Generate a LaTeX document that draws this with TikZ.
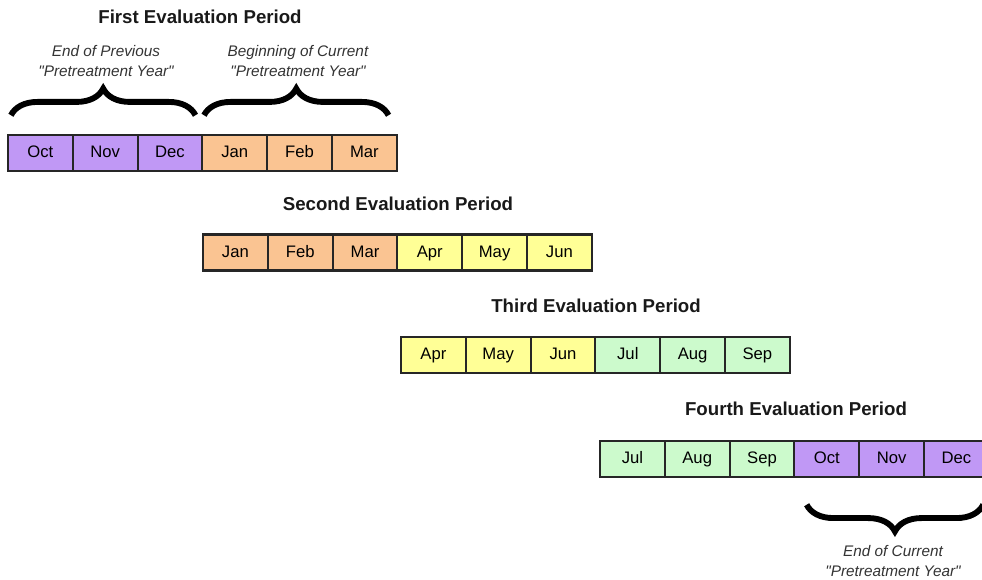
\documentclass[tikz,border=0pt]{standalone}
\usepackage{fontspec}
\setmainfont{Liberation Sans}
\usetikzlibrary{decorations.pathreplacing}

\definecolor{lilac}{RGB}{192,152,245}
\definecolor{peach}{RGB}{250,196,146}
\definecolor{lemon}{RGB}{255,255,150}
\definecolor{mint}{RGB}{204,250,204}

\tikzset{every picture/.style={line width=0.75pt}}

\begin{document}
\begin{tikzpicture}[x=0.75pt,y=0.75pt,yscale=-1,xscale=1,
	month/.style={draw=black!85, line width=1.6pt, minimum width=48.6pt, minimum height=27pt, inner sep=0pt, text height=1.6ex, text depth=0.3ex, font=\fontsize{12.5}{14}\selectfont},
	period/.style={font=\bfseries\fontsize{14}{16}\selectfont, text=black!90},
	note/.style={align=center, font=\itshape\fontsize{11.5}{15}\selectfont, text=black!80},
	bigbrace/.style={decorate, decoration={brace, amplitude=20pt, aspect=0.5}, line width=4.4pt}]
	\useasboundingbox (0,0) rectangle (982,580);

	% First Evaluation Period
	\node[period] (t1) at (200,17) {First Evaluation Period};
	\foreach \m/\c [count=\i] in {Oct/lilac,Nov/lilac,Dec/lilac,Jan/peach,Feb/peach,Mar/peach}
		\node[month, fill=\c] (a\i) at ({8+32.4+(\i-1)*64.8},153) {\m};

	% Second Evaluation Period
	\node[period] (t2) at (398,204) {Second Evaluation Period};
	\foreach \m/\c [count=\i] in {Jan/peach,Feb/peach,Mar/peach,Apr/lemon,May/lemon,Jun/lemon}
		\node[month, fill=\c] (b\i) at ({203+32.4+(\i-1)*64.8},252.5) {\m};

	% Third Evaluation Period
	\node[period] (t3) at (596,306) {Third Evaluation Period};
	\foreach \m/\c [count=\i] in {Apr/lemon,May/lemon,Jun/lemon,Jul/mint,Aug/mint,Sep/mint}
		\node[month, fill=\c] (c\i) at ({401+32.4+(\i-1)*64.8},355) {\m};

	% Fourth Evaluation Period
	\node[period] (t4) at (796,409) {Fourth Evaluation Period};
	\foreach \m/\c [count=\i] in {Jul/mint,Aug/mint,Sep/mint,Oct/lilac,Nov/lilac,Dec/lilac}
		\node[month, fill=\c] (d\i) at ({600+32.4+(\i-1)*64.8},459) {\m};

	% braces
	\draw[bigbrace] ([xshift=3pt,yshift=-14pt]a1.north west) -- ([xshift=-6pt,yshift=-14pt]a3.north east);
	\draw[bigbrace] ([xshift=2pt,yshift=-14pt]a4.north west) -- ([xshift=-7pt,yshift=-14pt]a6.north east);
	\draw[bigbrace] ([xshift=-5pt,yshift=20pt]d6.south east) -- ([xshift=10pt,yshift=20pt]d4.south west);

	% Text Node
	\node[note] (n1) at (106,61) {End of Previous\\\textquotedbl Pretreatment Year\textquotedbl};
	\node[note] (n2) at (298,61) {Beginning of Current\\\textquotedbl Pretreatment Year\textquotedbl};
	\node[note] (n3) at (893,561) {End of Current\\\textquotedbl Pretreatment Year\textquotedbl};

\end{tikzpicture}
\end{document}
